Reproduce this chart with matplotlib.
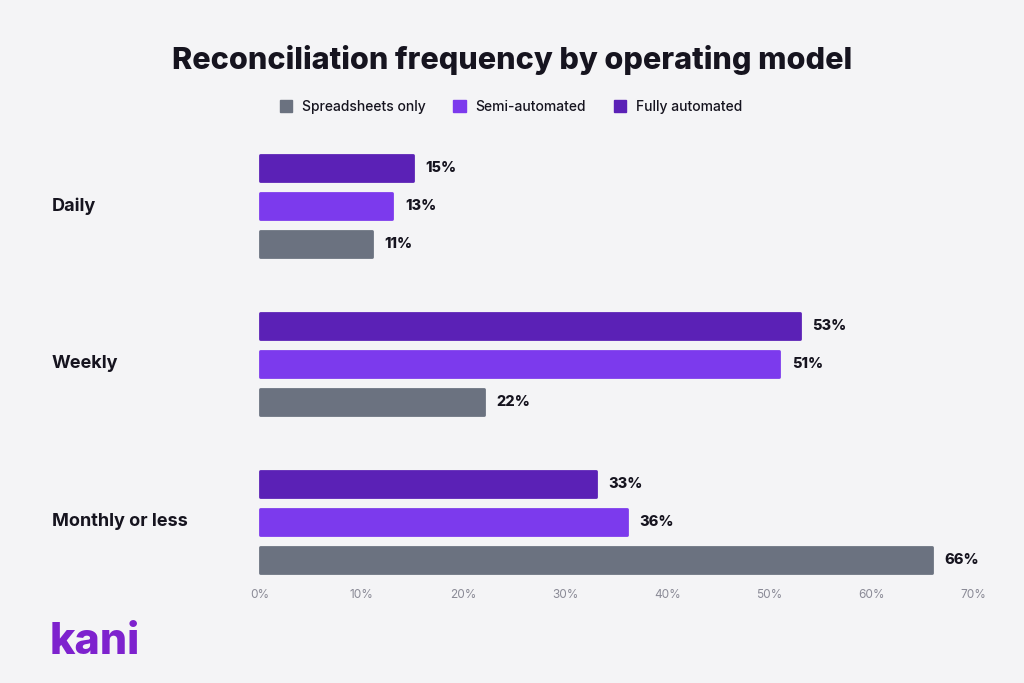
import matplotlib
matplotlib.use("Agg")
import matplotlib.pyplot as plt
from matplotlib.patches import Patch
import numpy as np

categories = ["Daily", "Weekly", "Monthly or less"]
series_names = ["Spreadsheets only", "Semi-automated", "Fully automated"]
spreadsheets = [11, 22, 66]
semi = [13, 51, 36]
fully = [15, 53, 33]
xticks = [0, 10, 20, 30, 40, 50, 60, 70]
xtick_labels = ["0%", "10%", "20%", "30%", "40%", "50%", "60%", "70%"]

colors = {"Spreadsheets only": "#6B7280", "Semi-automated": "#7C3AED", "Fully automated": "#5B21B6"}
bg = "#F4F4F6"
dark = "#16141F"

plt.rcParams['font.family'] = ['Inter', 'DejaVu Sans']

fig = plt.figure(figsize=(10.24, 6.83), dpi=100, facecolor=bg)
ax = fig.add_axes([260/1024, 1-585/683, 713/1024, 440/683], facecolor=bg)

offset = 0.24
h = 0.165
series = [("Fully automated", fully, -offset), ("Semi-automated", semi, 0), ("Spreadsheets only", spreadsheets, offset)]
y = np.arange(len(categories))
for name, vals, off in series:
    bars = ax.barh(y + off, vals, height=h, color=colors[name], edgecolor=colors[name],
                   linewidth=2, joinstyle='round', clip_on=False)
    for yy, v in zip(y + off, vals):
        ax.annotate(f"{v}%", (v, yy), xytext=(9, 0), textcoords="offset points",
                    va="center", ha="left", fontsize=10.5, fontweight="heavy", color=dark)

ax.set_xlim(0, 70)
ax.set_ylim(2.4, -0.385)
ax.set_xticks(xticks)
ax.set_xticklabels(xtick_labels, fontsize=8.5, color="#8A8A96")
ax.tick_params(axis='x', length=0, pad=3)
ax.set_yticks([])
for s in ax.spines.values():
    s.set_visible(False)

trans = matplotlib.transforms.blended_transform_factory(fig.transFigure, ax.transData)
for yy, c in zip(y, categories):
    ax.text(52/1024, yy, c, transform=trans,
            fontsize=13, fontweight="bold", color=dark, va="center", ha="left")

fig.text(512/1024, 1-60/683, "Reconciliation frequency by operating model", ha="center", va="center",
         fontsize=22, fontweight="heavy", color=dark)

handles = [Patch(facecolor=colors[n], edgecolor=colors[n], label=n) for n in series_names]
fig.legend(handles=handles, loc="center", bbox_to_anchor=(511/1024, 1-107/683), ncol=3, frameon=False,
           handlelength=0.9, handleheight=0.9, handletextpad=0.7, columnspacing=2.0,
           labelcolor=dark, prop={'weight': 'medium', 'size': 10})

fig.text(50/1024, 1-642/683, "kani", ha="left", va="center", fontsize=31, fontweight="heavy", color="#7E22CE")

fig.savefig("out.png", dpi=100, facecolor=bg)
